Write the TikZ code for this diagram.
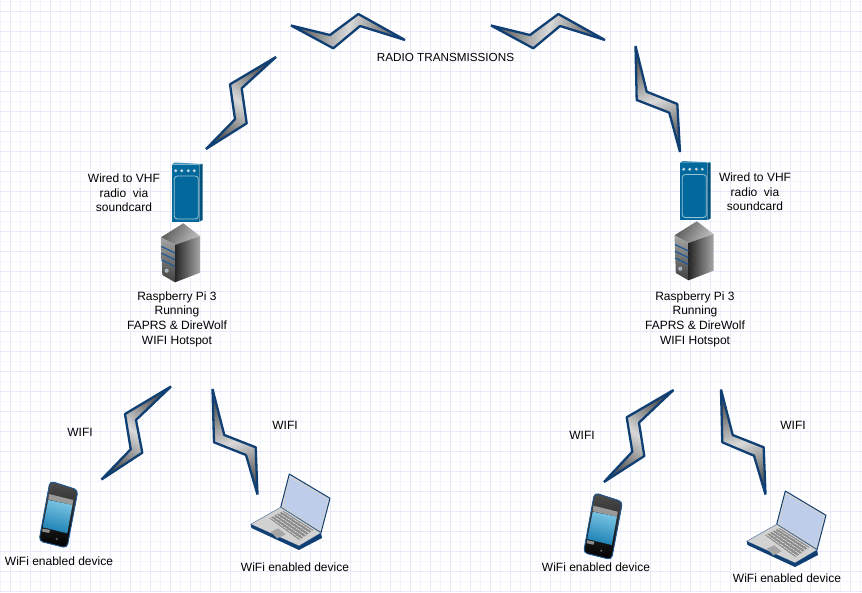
\documentclass[tikz,border=0pt]{standalone}
\usepackage{fontspec}
\setmainfont{Liberation Sans}
\usetikzlibrary{calc}
\definecolor{gridminor}{HTML}{F4F4FE}
\definecolor{gridmajor}{HTML}{E8E8FB}
\definecolor{boltblue}{HTML}{0F3F73}
\definecolor{radioblue}{HTML}{03689B}
\definecolor{radiotop}{HTML}{3F8FB8}
\definecolor{bandblue}{HTML}{1F5A96}
\definecolor{lapscreen}{HTML}{BDCDEA}
\definecolor{lapbase}{HTML}{D2D2D2}
\definecolor{phonehi}{HTML}{7CC6E4}
\definecolor{phonelo}{HTML}{1B7FB3}
\tikzset{
    lbl/.style={font=\fontsize{12}{14.7}\selectfont, align=center, inner sep=0pt},
    bolt/.style={draw=boltblue, line width=2.3pt, line join=bevel, top color=black!68, bottom color=black!68, middle color=black!15, shading angle=#1},
    radiodev/.pic={
        \fill[radiotop] (-13.3,-27.3) -- (-10.5,-29.5) -- (17.7,-28) -- (14.3,-27.3) -- cycle;
        \fill[radioblue!80!black] (14.3,-27.3) -- (17.7,-28) -- (17.7,28) -- (14.3,29.7) -- cycle;
        \fill[radioblue] (-13.3,-27.3) rectangle (14.3,29.7);
        \draw[white!60!radioblue, line width=0.8pt, rounded corners=3pt] (-10.7,-16) rectangle (13.3,27);
        \foreach \dotx in {-9.3,-3.3,3.3,9.3}
            \fill[white!75!radioblue] (\dotx,-21.3) circle (1.6);
    },
    serverbox/.pic={
        \shade[top color=black!65, bottom color=black!25, shading angle=60] (3.3,-26.7) -- (-19,-12.7) -- (-5,-5) -- (20,-14) -- cycle;
        \shade[top color=black!35, bottom color=black!75] (-19,-12.7) -- (-5,-5) -- (-5,32.3) -- (-17.7,25) -- cycle;
        \shade[left color=black!85, right color=black!35] (-5,-5) -- (20,-14) -- (20,22.7) -- (-5,32.3) -- cycle;
        \foreach \bandy in {-3.5,3.2,9.9}
            \draw[bandblue, line width=1.2pt] (-18.6,\bandy) .. controls (-12,\bandy+3) .. (-5,\bandy+6.5);
        \fill[black!25] (-13.3,20.7) circle (2);
        \fill[bandblue!60] (-13.3,20.7) circle (1);
    },
    phonedev/.pic={
        \filldraw[draw=bandblue, line width=0.9pt, top color=black!70, bottom color=black, rounded corners=4pt] (-9,-34) -- (19,-25) -- (8,33) -- (-20,26) -- cycle;
        \fill[black!40] (-10,-21) -- (14.3,-15) -- (13.4,-10) -- (-10.7,-15.5) -- cycle;
        \shade[top color=phonehi, bottom color=phonelo, shading angle=-15] (-10.7,-15) -- (13.4,-10) -- (8.3,18.3) -- (-16.3,12.3) -- cycle;
        \fill[black!45] (-16.3,13.5) -- (-9,15) -- (-10,18) -- (-17,16.5) -- cycle;
        \fill[black!60] (-2.3,24) circle (1.2);
    },
    laptopdev/.pic={
        \filldraw[draw=boltblue, line width=1pt, line join=round, fill=lapbase] (-0.7,-36) -- (40,-11.7) -- (31,22.7) -- (-9.3,-2.7) -- cycle;
        \fill[lapscreen] (0,-32.7) -- (37.7,-10.7) -- (30,20) -- (-6.7,-3.3) -- cycle;
        \filldraw[draw=boltblue!70!white, line width=0.5pt, line join=round, fill=lapbase] (-39.3,14.3) -- (-9.3,-2.7) -- (31,23) -- (9,36) -- cycle;
        \fill[boltblue] (-39.3,14.3) -- (-38.5,18) -- (9,40) -- (32,28) -- (31,23) -- (9,36) -- cycle;
        \fill[black!45] (-20.7,8.3) -- (-6.7,1) -- (23.3,20) -- (9.3,30) -- cycle;
        \foreach \keyt in {0.1,0.3,0.5,0.7,0.9}
            \draw[black!10, line width=0.7pt] ($(-20.7,8.3)!\keyt!(-6.7,1)$) -- ($(9.3,30)!\keyt!(23.3,20)$);
        \foreach \keyt in {0.07,0.14,...,0.95}
            \draw[black!45, line width=0.4pt] ($(-20.7,8.3)!\keyt!(9.3,30)$) -- ($(-6.7,1)!\keyt!(23.3,20)$);
        \fill[black!35] (-19.3,21.7) -- (-11.7,18.3) -- (-4.3,24.3) -- (-12.7,28.3) -- cycle;
    }
}
\begin{document}
\begin{tikzpicture}[x=1pt, y=-1pt]
\useasboundingbox (0,0) rectangle (862,592);
\fill[white] (0,0) rectangle (862,592);

% Grid paper
\foreach \gx in {0,20,...,860}
    \draw[gridminor, line width=1pt] (\gx+0.5,0) -- (\gx+0.5,592);
\foreach \gy in {1,21,...,581}
    \draw[gridminor, line width=1pt] (0,\gy+0.5) -- (862,\gy+0.5);
\foreach \gx in {10,30,...,850}
    \draw[gridmajor, line width=1pt] (\gx+0.5,0) -- (\gx+0.5,592);
\foreach \gy in {11,31,...,591}
    \draw[gridmajor, line width=1pt] (0,\gy+0.5) -- (862,\gy+0.5);

% Radio link along the top
\draw[bolt=-37] (276,57) -- (230,84.3) -- (235,119.3) -- (206,149) -- (246.7,123.3) -- (241.7,88.3) -- cycle;
\draw[bolt=-98] (291,25.5) -- (330,35) -- (358.3,14) -- (405,40) -- (360,26) -- (333.3,48.3) -- cycle;
\draw[bolt=-98] (491,25.5) -- (530,35) -- (558.3,14) -- (605,40) -- (560,26) -- (533.3,48.3) -- cycle;
\draw[bolt=22] (635.5,46) -- (646.7,91.7) -- (677.3,104) -- (680,152) -- (669.3,112.7) -- (636.7,100) -- cycle;
\node[lbl, font=\fontsize{11.7}{14.7}\selectfont] (title) at (445.5,57) {RADIO TRANSMISSIONS};

% Left station
\pic (radioL) at (185,192) {radiodev};
\pic (serverL) at (180,250) {serverbox};
\node[lbl] (wiredL) at (124,193) {Wired to VHF\\radio\ \ via\\soundcard};
\node[lbl] (piL) at (177,319) {Raspberry Pi 3\\Running\\FAPRS \& DireWolf\\WIFI Hotspot};
\draw[bolt=-37] (171,386.5) -- (125,414) -- (130.7,449.3) -- (101.5,479.5) -- (142.3,452.7) -- (136,420) -- cycle;
\draw[bolt=22] (212.5,389) -- (224.3,435) -- (255.7,447.3) -- (257.5,494.5) -- (246,455) -- (214,442.3) -- cycle;
\node[lbl] (wifiA) at (80,432) {WIFI};
\node[lbl] (wifiB) at (285,425) {WIFI};
\pic (phoneL) at (59,515) {phonedev};
\pic (laptopL) at (290,510) {laptopdev};
\node[lbl] (devA) at (59,561) {WiFi enabled device};
\node[lbl] (devB) at (295,567) {WiFi enabled device};

% Right station
\pic (radioR) at (693,190.5) {radiodev};
\pic (serverR) at (693.5,248) {serverbox};
\node[lbl] (wiredR) at (755,192) {Wired to VHF\\radio\ \ via\\soundcard};
\node[lbl] (piR) at (695,319) {Raspberry Pi 3\\Running\\FAPRS \& DireWolf\\WIFI Hotspot};
\draw[bolt=-37] (673.5,390) -- (626.7,417.3) -- (632.3,451.7) -- (604,482) -- (644.3,456) -- (639,422.7) -- cycle;
\draw[bolt=22] (721,389.5) -- (732.7,435) -- (763.7,447.3) -- (765.5,494.5) -- (754,455.7) -- (722.3,442.3) -- cycle;
\node[lbl] (wifiC) at (582,435) {WIFI};
\node[lbl] (wifiD) at (793,425) {WIFI};
\pic (phoneR) at (603.5,526.7) {phonedev};
\pic (laptopR) at (786,527) {laptopdev};
\node[lbl] (devC) at (596,567) {WiFi enabled device};
\node[lbl] (devD) at (787,578) {WiFi enabled device};
\end{tikzpicture}
\end{document}
